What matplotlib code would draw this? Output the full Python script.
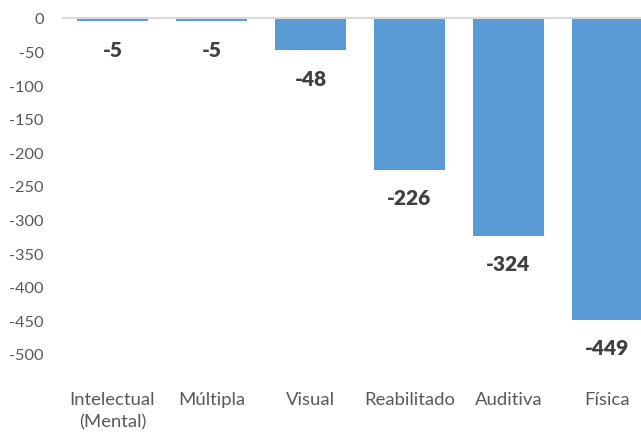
import matplotlib
matplotlib.use("Agg")
import matplotlib.pyplot as plt
import matplotlib.transforms as mtrans

categories = ["Intelectual\n(Mental)", "Múltipla", "Visual", "Reabilitado", "Auditiva", "Física"]
values = [-5, -5, -48, -226, -324, -449]
yticks = list(range(0, -501, -50))

plt.rcParams['font.family'] = ['Lato', 'DejaVu Sans']

fig = plt.figure(figsize=(6.41, 4.35), dpi=100)
W, H = 641, 435
left, right = 63, 657
top, bottom = 19, 355
ax = fig.add_axes([left / W, 1 - bottom / H, (right - left) / W, (bottom - top) / H])

x = list(range(len(categories)))
ax.bar(x, values, width=0.72, color="#5B9BD5", zorder=2)
ax.set_xlim(-0.5, len(categories) - 0.5)
ax.set_ylim(-500, 0)
ax.set_yticks(yticks)
ax.set_yticklabels([str(v) for v in yticks], color="#595959", fontsize=11.8)
ax.tick_params(axis='y', length=0, pad=14)
ax.set_xticks([])

for s in ["left", "right", "bottom"]:
    ax.spines[s].set_visible(False)
ax.spines["top"].set_color("#D9D9D9")
ax.spines["top"].set_linewidth(1.5)

for xi, v in zip(x, values):
    ax.annotate(str(v), (xi, v), xytext=(0, -28), textcoords="offset pixels",
                ha="center", va="center", fontsize=15, fontweight="heavy", color="#404040")

shift = mtrans.ScaledTranslation(0, -37 / 100, fig.dpi_scale_trans)
for xi, c in zip(x, categories):
    ax.text(xi, -500, c, transform=ax.transData + shift,
            ha="center", va="top", fontsize=13.3, color="#595959", linespacing=1.5)

fig.savefig("out.png", dpi=100)
